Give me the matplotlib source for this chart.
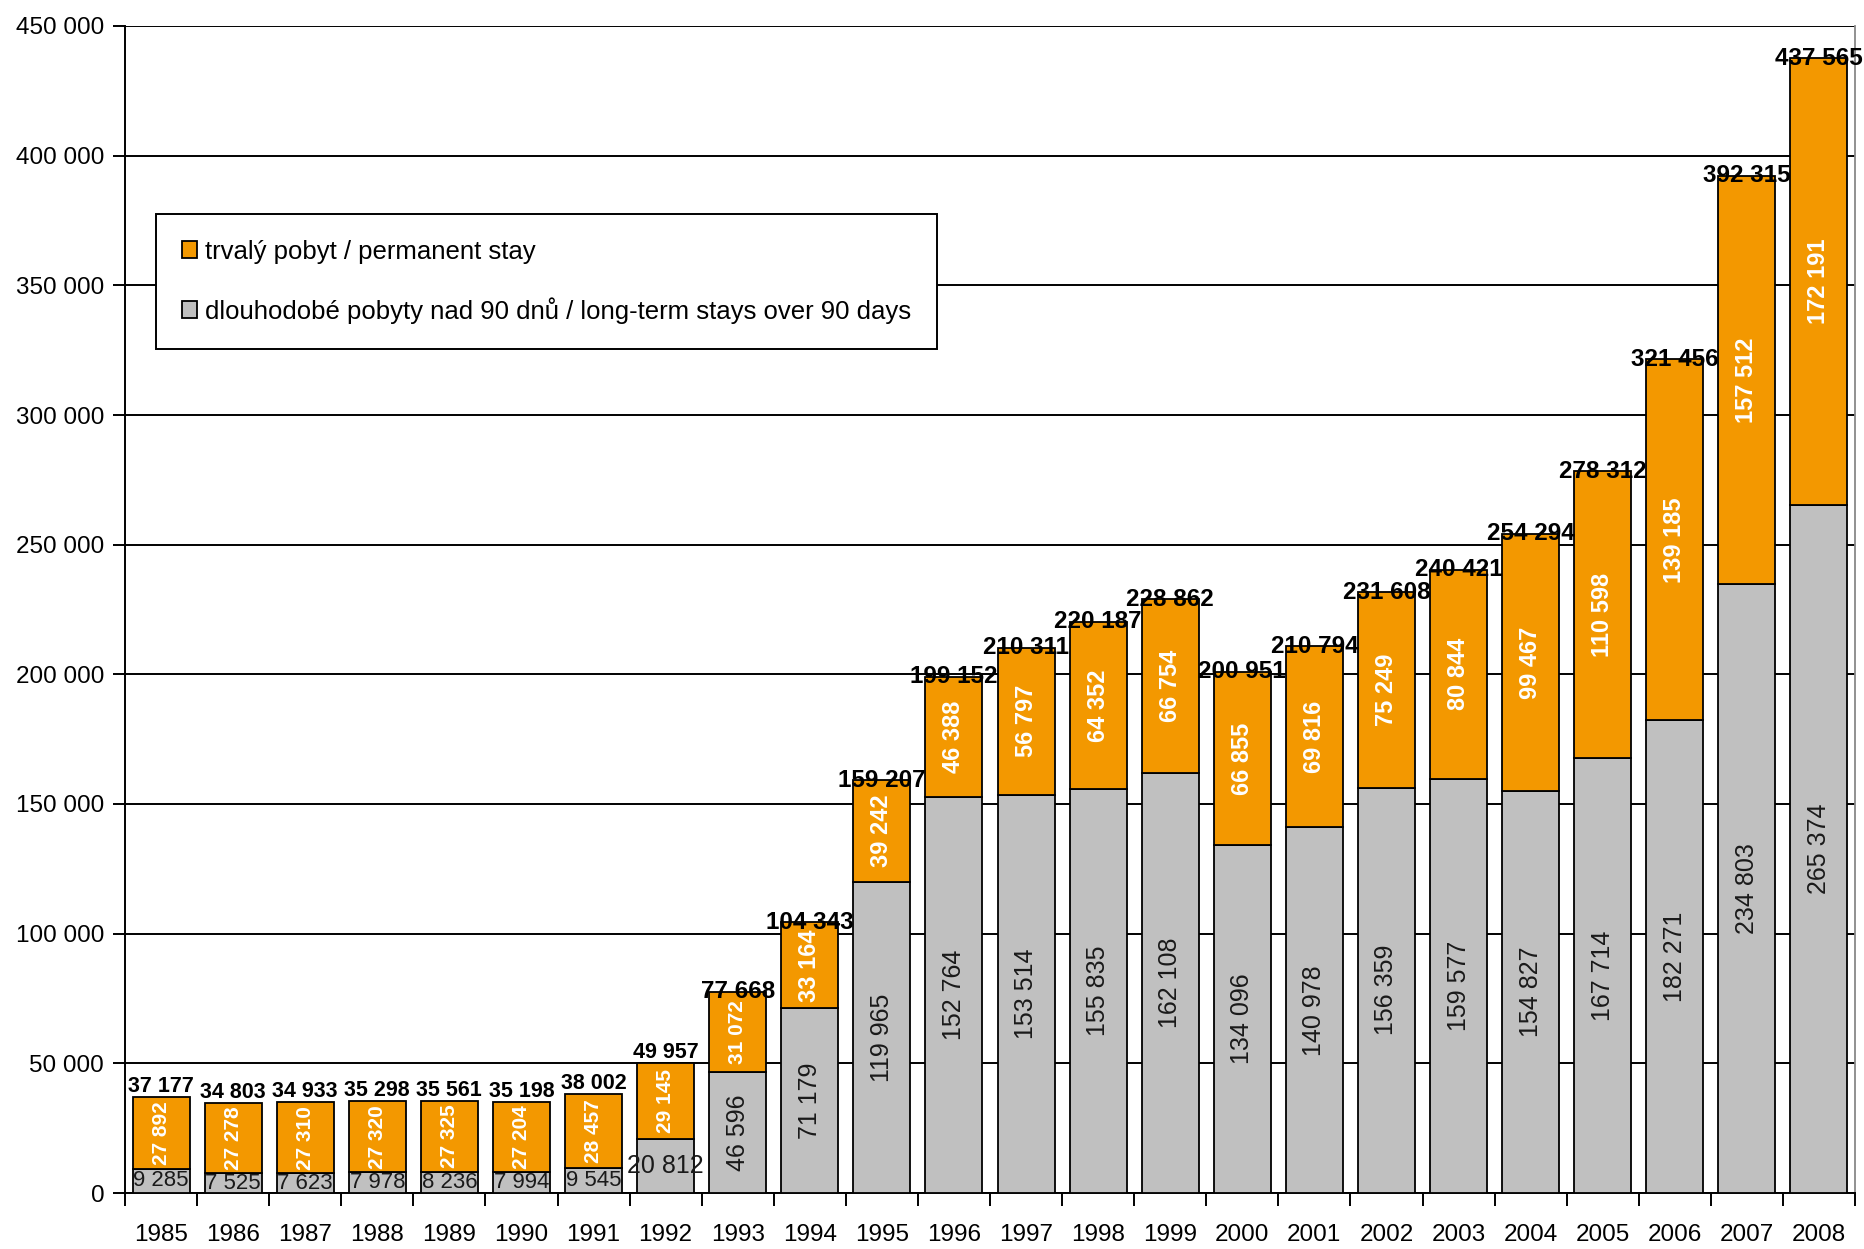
import numpy as np
import matplotlib.pyplot as plt
from matplotlib.ticker import FuncFormatter, MultipleLocator

years = [str(y) for y in range(1985, 2009)]
totals = [37177, 34803, 34933, 35298, 35561, 35198, 38002, 49957, 77668, 104343,
          159207, 199152, 210311, 220187, 228862, 200951, 210794, 231608, 240421,
          254294, 278312, 321456, 392315, 437565]
permanent = [27892, 27278, 27310, 27320, 27325, 27204, 28457, 29145, 31072, 33164,
             39242, 46388, 56797, 64352, 66754, 66855, 69816, 75249, 80844,
             99467, 110598, 139185, 157512, 172191]
long_term = [9285, 7525, 7623, 7978, 8236, 7994, 9545, 20812, 46596, 71179,
             119965, 152764, 153514, 155835, 162108, 134096, 140978, 156359, 159577,
             154827, 167714, 182271, 234803, 265374]

label_perm = "trvalý pobyt / permanent stay"
label_lt = "dlouhodobé pobyty nad 90 dnů / long-term stays over 90 days"

ORANGE = "#F39800"
GRAY = "#C0C0C0"


def fmt(v):
    return f"{int(v):,}".replace(",", " ")


plt.rcParams['font.family'] = ['Liberation Sans', 'DejaVu Sans']

fig = plt.figure(figsize=(18.64, 12.49), dpi=100)
ax = fig.add_axes([125 / 1864, 1 - 1193 / 1249, 1730 / 1864, 1167 / 1249])

x = np.arange(len(years))
w = 0.79
b_lt = ax.bar(x, long_term, w, color=GRAY, edgecolor='black', linewidth=1.3,
              label=label_lt, zorder=3)
b_pm = ax.bar(x, permanent, w, bottom=long_term, color=ORANGE, edgecolor='black',
              linewidth=1.3, label=label_perm, zorder=3)

for i in range(len(years)):
    small = i < 8
    # long-term stays: horizontal in the small early bars, vertical later
    ax.text(x[i], long_term[i] / 2, fmt(long_term[i]), ha='center', va='center',
            fontsize=16 if i < 7 else 18, color='#1a1a1a',
            rotation=0 if small else 90, zorder=4)
    # permanent stays
    ax.text(x[i], long_term[i] + permanent[i] / 2, fmt(permanent[i]), ha='center',
            va='center', fontsize=15 if i < 9 else 17, color='white',
            fontweight='bold', rotation=90, zorder=5)
    # totals
    ax.text(x[i], totals[i], fmt(totals[i]), ha='center',
            va='bottom' if small else 'center',
            fontsize=15.5 if small else 17.5, color='black', fontweight='bold',
            zorder=6)

ax.set_xlim(-0.5, len(years) - 0.5)
ax.set_ylim(0, 450000)
ax.yaxis.set_major_locator(MultipleLocator(50000))
ax.yaxis.set_major_formatter(FuncFormatter(lambda v, p: fmt(v)))
ax.grid(axis='y', color='black', linewidth=1.4, zorder=0)
ax.set_axisbelow(True)
ax.get_ygridlines()[-1].set_color('#888888')

ax.set_xticks(x)
ax.set_xticklabels(years)
ax.set_xticks(np.arange(-0.5, len(years), 1), minor=True)
ax.tick_params(axis='x', which='major', length=0, pad=22, labelsize=17.5)
ax.tick_params(axis='x', which='minor', length=9, width=1.4, direction='out')
ax.tick_params(axis='y', length=9, width=1.4, direction='out', labelsize=17.5, pad=6)

ax.spines['top'].set_visible(False)
ax.spines['right'].set_color('#888888')
ax.spines['right'].set_linewidth(1.3)
for s in ['left', 'bottom']:
    ax.spines[s].set_linewidth(1.4)
    ax.spines[s].set_color('black')

handles = [b_pm, b_lt]
leg = ax.legend(handles, [label_perm, label_lt], loc='upper left',
                bbox_to_anchor=(0.018, 0.839), fancybox=False, edgecolor='black',
                framealpha=1, fontsize=18.5, handlelength=0.6, handleheight=0.6,
                handletextpad=0.3, labelspacing=1.3, borderpad=1.0, borderaxespad=0)
leg.get_frame().set_linewidth(1.4)
leg.set_zorder(10)

fig.savefig('out.png', dpi=100)
